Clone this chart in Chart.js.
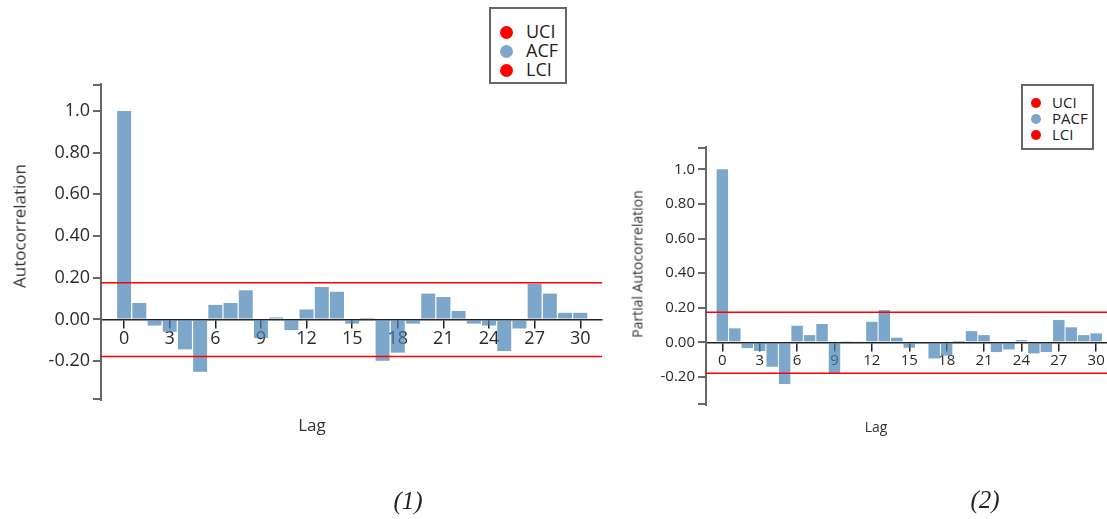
<!DOCTYPE html>
<html>
<head>
<meta charset="utf-8">
<script src="https://cdn.jsdelivr.net/npm/chart.js@4.4.0/dist/chart.umd.min.js"></script>
<style>
  html, body { margin: 0; padding: 0; background: #fff; overflow: hidden; }
  body { width: 1107px; height: 519px; position: relative; font-family: "Open Sans", sans-serif; color: #333; }
  .wrap { position: absolute; top: 0; }
  .txt { position: absolute; white-space: nowrap; color: #333; }
  .rot { transform: translate(-50%, -50%) rotate(-90deg); }
  .ctr { transform: translate(-50%, -50%); }
  .caption { position: absolute; font-family: "Liberation Serif", serif; font-style: italic; font-size: 25px; color: #222; transform: translate(-50%, -50%); }
  .legend { position: absolute; background: #fff; border: 2px solid #666; box-sizing: border-box; }
  .legend div { position: absolute; white-space: nowrap; color: #222; }
  .legend span { position: absolute; border-radius: 50%; }
</style>
</head>
<body>
<div class="wrap" style="left:0;width:620px;height:519px"><canvas id="acf_chart"></canvas></div>
<div class="wrap" style="left:620px;width:500px;height:519px"><canvas id="pacf_chart"></canvas></div>

<div class="txt rot" style="left:19px;top:226px;font-size:17px">Autocorrelation</div>
<div class="txt ctr" style="left:312px;top:424px;font-size:17px">Lag</div>
<div class="txt rot" style="left:637px;top:264px;font-size:14px">Partial Autocorrelation</div>
<div class="txt ctr" style="left:876px;top:426px;font-size:14px">Lag</div>
<div class="caption" style="left:408px;top:501px">(1)</div>
<div class="caption" style="left:985px;top:500px">(2)</div>

<div id="acf_legend" class="legend" style="left:489px;top:7px;width:78px;height:77px"></div>
<div id="pacf_legend" class="legend" style="left:1021px;top:84px;width:73px;height:66px"></div>

<script>
"use strict";

// Lags 0..30
const lags = [0, 1, 2, 3, 4, 5, 6, 7, 8, 9, 10, 11, 12, 13, 14, 15, 16, 17, 18, 19, 20, 21, 22, 23, 24, 25, 26, 27, 28, 29, 30];

const acf_values = [1.0, 0.079, -0.029, -0.059, -0.143, -0.251, 0.070, 0.079, 0.140, -0.089,
  0.010, -0.051, 0.048, 0.156, 0.133, -0.020, 0.002, -0.198, -0.159, -0.020,
  0.124, 0.108, 0.041, -0.020, -0.029, -0.151, -0.043, 0.171, 0.124, 0.032, 0.032];

const pacf_values = [1.0, 0.081, -0.033, -0.050, -0.141, -0.241, 0.096, 0.042, 0.106, -0.179,
  0.004, 0.005, 0.119, 0.187, 0.027, -0.031, -0.003, -0.093, -0.077, 0.002,
  0.065, 0.042, -0.056, -0.041, 0.013, -0.064, -0.056, 0.129, 0.087, 0.042, 0.052];

// confidence interval bounds
const acf_ci = [0.176, -0.178];
const pacf_ci = [0.174, -0.179];

const y_ticks = [-0.2, 0, 0.2, 0.4, 0.6, 0.8, 1.0];
const x_tick_step = 3;

const BAR_COLOR = "rgba(70,130,180,0.7)";
const CI_COLOR = "#ff0000";

// d3-like end ticks on the y axis
const end_ticks = {
  id: "end_ticks",
  afterDraw(chart) {
    const y = chart.scales.y;
    const ctx = chart.ctx;
    ctx.save();
    ctx.strokeStyle = "#666";
    ctx.lineWidth = 2;
    ctx.beginPath();
    ctx.moveTo(y.right - 8, y.top + 1);
    ctx.lineTo(y.right, y.top + 1);
    ctx.moveTo(y.right - 8, y.bottom - 1);
    ctx.lineTo(y.right, y.bottom - 1);
    ctx.stroke();
    ctx.restore();
  },
};

function make_chart(canvas_id, values, ci, bar_label, cfg) {
  const bars = lags.map((lag, i) => ({ x: lag, y: values[i] }));
  const ci_line = (v) => [{ x: cfg.x_min, y: v }, { x: cfg.x_max, y: v }];

  const data = {
    datasets: [
      { type: "line", label: "UCI", data: ci_line(ci[0]), borderColor: CI_COLOR, backgroundColor: CI_COLOR,
        borderWidth: 1.5, pointRadius: 0, order: 0 },
      { type: "bar", label: bar_label, data: bars, backgroundColor: BAR_COLOR,
        barPercentage: 0.92, categoryPercentage: 1.0, order: 1 },
      { type: "line", label: "LCI", data: ci_line(ci[1]), borderColor: CI_COLOR, backgroundColor: CI_COLOR,
        borderWidth: 1.5, pointRadius: 0, order: 0 },
    ],
  };

  const config = {
    type: "bar",
    data: data,
    options: {
      responsive: true,
      maintainAspectRatio: false,
      animation: false,
      layout: { padding: cfg.padding },
      plugins: { legend: { display: false }, tooltip: { enabled: false } },
      scales: {
        x: {
          type: "linear",
          position: { y: 0 },
          offset: false,
          min: cfg.x_min,
          max: cfg.x_max,
          z: 1,
          grid: { drawOnChartArea: false, drawTicks: true, tickLength: 8, color: "#222", lineWidth: 1.5, offset: false },
          border: { color: "#222", width: 1.5 },
          ticks: { stepSize: x_tick_step, includeBounds: false, color: "#2a2a2a", padding: 1,
            font: { family: "Open Sans", size: cfg.font_size } },
        },
        y: {
          type: "linear",
          position: "left",
          min: cfg.y_min,
          max: cfg.y_max,
          afterFit: (scale) => { scale.width = cfg.y_width; },
          afterBuildTicks: (scale) => { scale.ticks = y_ticks.map((v) => ({ value: v })); },
          grid: { drawOnChartArea: false, drawTicks: true, tickLength: 8, color: "#666", lineWidth: 2 },
          border: { color: "#666", width: 2 },
          ticks: {
            color: "#2a2a2a",
            padding: 3,
            font: { family: "Open Sans", size: cfg.font_size },
            callback: (v) => (v === 1 ? "1.0" : Number(v).toFixed(2)),
          },
        },
      },
    },
    plugins: [end_ticks],
  };

  return new Chart(document.getElementById(canvas_id), config);
}

function fill_legend(chart, el_id, font_size, radius, spacing, first_y, dot_x, text_x) {
  const el = document.getElementById(el_id);
  chart.data.datasets.forEach((ds, i) => {
    const cy = first_y + i * spacing;
    const dot = document.createElement("span");
    dot.style.cssText = `left:${dot_x - radius}px;top:${cy - radius}px;width:${radius * 2}px;height:${radius * 2}px;background:${ds.backgroundColor}`;
    const txt = document.createElement("div");
    txt.textContent = ds.label;
    txt.style.cssText = `left:${text_x}px;top:${cy}px;font-size:${font_size}px;line-height:1;transform:translateY(-55%)`;
    el.appendChild(dot);
    el.appendChild(txt);
  });
}

const acf_chart = make_chart("acf_chart", acf_values, acf_ci, "ACF", {
  x_min: -1.52, x_max: 31.43, y_min: -0.386, y_max: 1.129,
  y_width: 101, font_size: 18,
  padding: { top: 84, bottom: 119, left: 0, right: 18 },
});

const pacf_chart = make_chart("pacf_chart", pacf_values, pacf_ci, "PACF", {
  x_min: -1.31, x_max: 31.43, y_min: -0.362, y_max: 1.129,
  y_width: 86, font_size: 15,
  padding: { top: 147, bottom: 114, left: 0, right: 6 },
});

fill_legend(acf_chart, "acf_legend", 18, 6.5, 19, 23, 15, 35);
fill_legend(pacf_chart, "pacf_legend", 15, 5, 16, 17, 13, 29);
</script>
</body>
</html>
